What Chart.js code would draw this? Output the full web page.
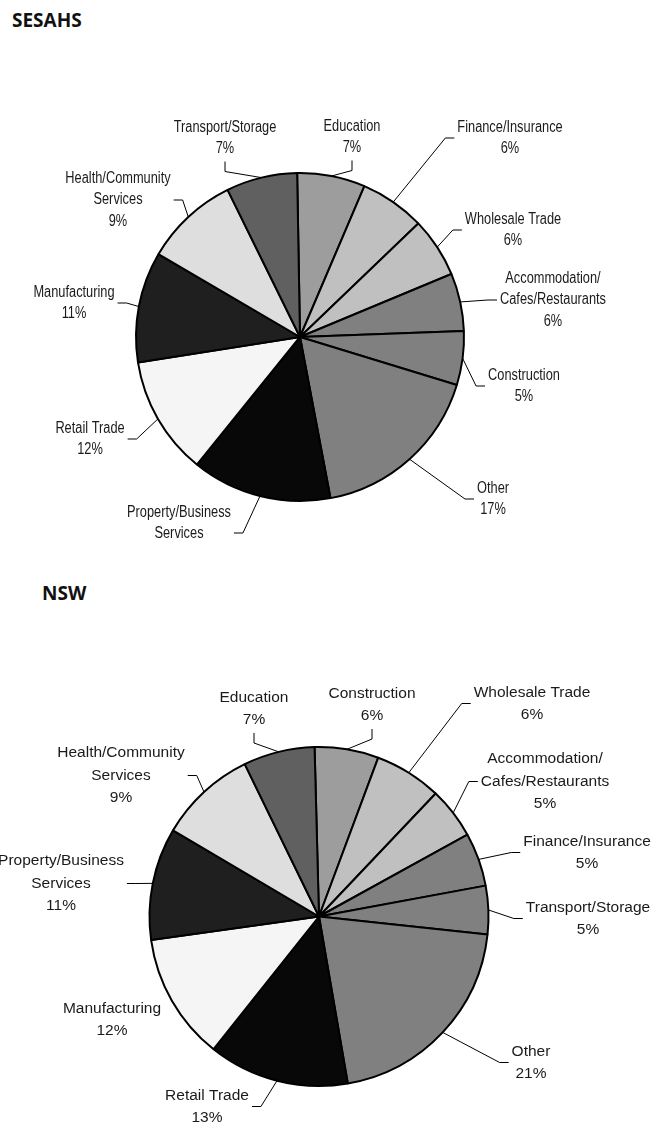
<!DOCTYPE html>
<html>
<head>
<meta charset="utf-8">
<script src="https://cdn.jsdelivr.net/npm/chart.js@4.4.1/dist/chart.umd.min.js"></script>
<style>
  html, body { margin: 0; padding: 0; background: #fff; }
  body { width: 658px; height: 1124px; position: relative; overflow: hidden; }
  .title { position: absolute; font-family: 'Open Sans', sans-serif; font-weight: 700;
           font-size: 19px; line-height: 19px; color: #111; }
  canvas { position: absolute; left: 0; }
</style>
</head>
<body>
<div class="title" style="left:12px; top:11px;">SESAHS</div>
<div class="title" style="left:42px; top:584px;">NSW</div>
<canvas id="sesahs" width="658" height="520" style="top:40px;"></canvas>
<canvas id="nsw" width="658" height="504" style="top:620px;"></canvas>
<script>
'use strict';

// ── Data (percent of employed persons by industry) ──
const sesahsCategories = [
  'Education', 'Finance/Insurance', 'Wholesale Trade',
  ['Accommodation/', 'Cafes/Restaurants'], 'Construction', 'Other',
  ['Property/Business', 'Services'], 'Retail Trade', 'Manufacturing',
  ['Health/Community', 'Services'], 'Transport/Storage',
];
const sesahsValues = [6.7, 6.4, 5.9, 5.7, 5.3, 17.3, 13.8, 11.7, 10.9, 9.3, 7.0];

const nswCategories = [
  'Construction', 'Wholesale Trade', ['Accommodation/', 'Cafes/Restaurants'],
  'Finance/Insurance', 'Transport/Storage', 'Other', 'Retail Trade',
  'Manufacturing', ['Property/Business', 'Services'],
  ['Health/Community', 'Services'], 'Education',
];
const nswValues = [6.1, 6.4, 4.9, 5.1, 4.6, 20.6, 13.4, 12.1, 10.7, 9.3, 6.8];

// slice fills go by position round the pie, same in both charts
const sliceGreys = ['#9d9d9d', '#c0c0c0', '#c0c0c0', '#808080', '#808080', '#808080',
                    '#080808', '#f5f5f5', '#1f1f1f', '#dedede', '#606060'];

// ── Label placement: offset of label block centre from pie centre (px) ──
// side = where the leader line leaves the label; pct:false hides the %
const sesahsLabelLayout = [
  { dx: 52,   dy: -200, side: 'bottom' },
  { dx: 210,  dy: -199, side: 'left' },
  { dx: 213,  dy: -107, side: 'left' },
  { dx: 253,  dy: -37,  side: 'left' },
  { dx: 224,  dy: 49,   side: 'left' },
  { dx: 193,  dy: 162,  side: 'left' },
  { dx: -121, dy: 186,  side: 'right', ay: 10, pct: false },
  { dx: -210, dy: 102,  side: 'right' },
  { dx: -226, dy: -34,  side: 'right' },
  { dx: -182, dy: -137, side: 'right' },
  { dx: -75,  dy: -199, side: 'bottom' },
];
const nswLabelLayout = [
  { dx: 53,   dy: -212, side: 'bottom' },
  { dx: 213,  dy: -213, side: 'left' },
  { dx: 226,  dy: -135, side: 'left' },
  { dx: 268,  dy: -64,  side: 'left' },
  { dx: 269,  dy: 2,    side: 'left' },
  { dx: 212,  dy: 146,  side: 'left' },
  { dx: -112, dy: 190,  side: 'right' },
  { dx: -207, dy: 103,  side: null },
  { dx: -258, dy: -33,  side: 'right' },
  { dx: -198, dy: -141, side: 'right' },
  { dx: -65,  dy: -208, side: 'bottom' },
];

// ── Plugin: outside labels with Excel style elbow leader lines ──
const leaderLabels = {
  id: 'leaderLabels',
  afterDatasetsDraw(chart, args, opts) {
    const ctx = chart.ctx;
    const meta = chart.getDatasetMeta(0);
    const data = chart.data.datasets[0].data;
    const total = data.reduce((a, b) => a + b, 0);
    const lh = opts.lineHeight;
    ctx.save();
    ctx.font = opts.font;
    ctx.fillStyle = opts.color;
    ctx.strokeStyle = '#000';
    ctx.lineWidth = 1;
    meta.data.forEach((arc, i) => {
      const p = arc.getProps(['x', 'y', 'startAngle', 'endAngle', 'outerRadius'], true);
      const lay = opts.layout[i];
      let lines = [].concat(chart.data.labels[i]);
      if (lay.pct !== false) lines = lines.concat(Math.round(data[i] / total * 100) + '%');

      const lx = p.x + lay.dx, ly = p.y + lay.dy;
      const w = Math.max(...lines.map(s => ctx.measureText(s).width)) * opts.scaleX;
      const top = ly - lh * lines.length / 2;
      lines.forEach((s, k) => {
        ctx.save();
        ctx.translate(lx, top + lh * (k + 0.5));
        ctx.scale(opts.scaleX, 1);
        ctx.textAlign = 'center';
        ctx.textBaseline = 'middle';
        ctx.fillText(s, 0, 0);
        ctx.restore();
      });

      if (!lay.side) return;
      const mid = (p.startAngle + p.endAngle) / 2;
      const ex = p.x + Math.cos(mid) * p.outerRadius;
      const ey = p.y + Math.sin(mid) * p.outerRadius;
      let ax, ay, bx, by;
      if (lay.side === 'bottom') {
        ax = lx; ay = top + lh * lines.length + 2; bx = ax; by = ay + 10;
      } else {
        const s = lay.side === 'left' ? -1 : 1;
        ax = lx + s * (w / 2 + 3); ay = ly + (lay.ay || 0); bx = ax + s * 9; by = ay;
      }
      ctx.beginPath();
      ctx.moveTo(ax, ay);
      ctx.lineTo(bx, by);
      ctx.lineTo(ex, ey);
      ctx.stroke();
    });
    ctx.restore();
  },
};

function PieChart(canvasId, labels, values, cfg) {
  const ctx = document.getElementById(canvasId).getContext('2d');
  return new Chart(ctx, {
    type: 'pie',
    data: {
      labels,
      datasets: [{
        data: values,
        backgroundColor: sliceGreys,
        borderColor: '#000',
        borderWidth: 2,
        radius: cfg.radius,
        rotation: cfg.rotation,
      }],
    },
    options: {
      responsive: false,
      animation: false,
      events: [],
      layout: { padding: cfg.padding },
      plugins: {
        legend: { display: false },
        tooltip: { enabled: false },
        leaderLabels: {
          layout: cfg.layout,
          font: cfg.font,
          scaleX: cfg.scaleX,
          lineHeight: cfg.lineHeight,
          color: '#1a1a1a',
        },
      },
    },
    plugins: [leaderLabels],
  });
}

PieChart('sesahs', sesahsCategories, sesahsValues, {
  radius: 164, rotation: -1,
  padding: { top: 74, right: 58, bottom: 0, left: 0 },
  layout: sesahsLabelLayout,
  font: '16px "Liberation Sans", Arial, sans-serif', scaleX: 0.8, lineHeight: 21.5,
});

PieChart('nsw', nswCategories, nswValues, {
  radius: 169.5, rotation: -1.5,
  padding: { top: 89, right: 20, bottom: 0, left: 0 },
  layout: nswLabelLayout,
  font: '15.5px "Liberation Sans", Arial, sans-serif', scaleX: 1, lineHeight: 22.5,
});
</script>
</body>
</html>
